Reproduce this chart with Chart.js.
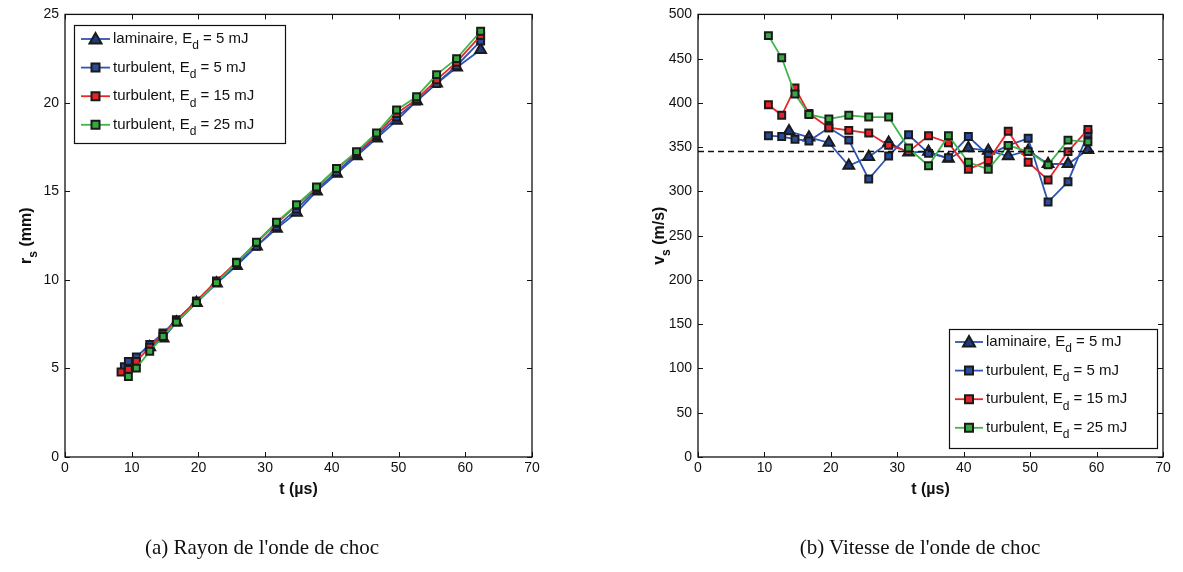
<!DOCTYPE html>
<html><head><meta charset="utf-8">
<script src="https://cdn.jsdelivr.net/npm/chart.js@4/dist/chart.umd.min.js"></script>
<style>
html,body{margin:0;padding:0;background:#fff;}
#wrap{position:relative;width:1183px;height:572px;overflow:hidden;}
canvas{position:absolute;top:0;}
.cap{position:absolute;top:535px;font-family:"Liberation Serif","DejaVu Serif",serif;font-size:21px;color:#111;white-space:nowrap;transform:translateX(-50%);}
</style></head>
<body><div id="wrap">
<canvas id="c1" width="600" height="572" style="left:0"></canvas>
<canvas id="c2" width="583" height="572" style="left:600px"></canvas>
<div class="cap" style="left:262px">(a) Rayon de l'onde de choc</div>
<div class="cap" style="left:920px">(b) Vitesse de l'onde de choc</div>
</div>
<script>
// ---------- DATA ----------
const seriesNames = ["laminaire, E|d| = 5 mJ","turbulent, E|d| = 5 mJ","turbulent, E|d| = 15 mJ","turbulent, E|d| = 25 mJ"];
const xTicks = [0,10,20,30,40,50,60,70];
const rTicks = [0,5,10,15,20,25];
const vTicks = [0,50,100,150,200,250,300,350,400,450,500];

// (a) radius r_s (mm) vs t (us)
const tLam_a  = [12.7,14.7,16.7,19.7,22.7,25.7,28.7,31.7,34.7,37.7,40.7,43.7,46.7,49.7,52.7,55.7,58.7,62.3];
const rLam    = [6.2,6.7,7.6,8.7,9.8,10.8,11.9,12.9,13.8,15.0,16.0,17.0,18.0,19.0,20.1,21.1,22.0,23.0];
const tTurb5_a  = [8.9,9.5,10.7,12.7,14.7,16.7,19.7,22.7,25.7,28.7,31.7,34.7,37.7,40.7,43.7,46.7,49.7,52.7,55.7,58.7,62.3];
const rTurb5    = [5.1,5.4,5.65,6.35,7.0,7.75,8.8,9.9,10.9,11.9,13.0,14.0,15.1,16.1,17.1,18.1,19.2,20.1,21.1,22.1,23.5];
const tTurb15_a = [8.4,9.5,10.7,12.7,14.7,16.7,19.7,22.7,25.7,28.7,31.7,34.7,37.7,40.7,43.7,46.7,49.7,52.7,55.7,58.7,62.3];
const rTurb15   = [4.8,4.95,5.4,6.2,6.95,7.7,8.8,9.95,11.0,12.1,13.2,14.2,15.2,16.3,17.2,18.2,19.4,20.2,21.3,22.3,23.8];
const tTurb25_a = [9.5,10.7,12.7,14.7,16.7,19.7,22.7,25.7,28.7,31.7,34.7,37.7,40.7,43.7,46.7,49.7,52.7,55.7,58.7,62.3];
const rTurb25   = [4.55,5.02,5.97,6.81,7.62,8.72,9.85,10.97,12.13,13.26,14.25,15.25,16.3,17.25,18.3,19.6,20.35,21.6,22.5,24.05];

// (b) velocity v_s (m/s) vs t (us)
const tLam_b  = [13.7,16.7,19.7,22.7,25.7,28.7,31.7,34.7,37.7,40.7,43.7,46.7,49.7,52.7,55.7,58.7];
const vLam    = [368,361,355,329,339,355,344,345,337,349,346,340,346,331,331,347];
const tTurb_b = [10.6,12.6,14.6,16.7,19.7,22.7,25.7,28.7,31.7,34.7,37.7,40.7,43.7,46.7,49.7,52.7,55.7,58.7];
const vTurb5  = [363,362,359,357,372,358,314,340,364,343,338,362,341,352,360,288,311,365];
const vTurb15 = [398,386,417,388,372,369,366,352,345,363,355,325,335,368,333,313,345,370];
const vTurb25 = [476,451,410,387,382,386,384,384,349,329,363,333,325,352,345,330,358,356];
const vRef = 345;   // dashed reference (speed of sound)

// ---------- STYLE ----------
const C_BLUE='#2f55b0', C_BLUEF='#2b4c9a', C_RED='#e8262b', C_REDF='#e52228', C_GREEN='#3fb54a', C_GREENF='#38a845';
const styles = [
  {line:C_BLUE, fill:'#1f3a80', pt:'triangle', r:6.2},
  {line:C_BLUE, fill:C_BLUEF, pt:'rect', r:4.9},
  {line:C_RED, fill:C_REDF, pt:'rect', r:4.9},
  {line:C_GREEN, fill:C_GREENF, pt:'rect', r:4.9}
];
const TICKFONT = {family:"'Liberation Sans Narrow','Liberation Sans',Arial,sans-serif", size:14};

function pts(xs, ys){ return xs.map((x,i)=>({x:x,y:ys[i]})); }
function ds(i, data){
  const s = styles[i];
  return {data:data, showLine:true, borderColor:s.line, borderWidth:1.8,
    pointStyle:s.pt, pointRadius:s.r, pointBackgroundColor:s.fill,
    pointBorderColor:'#1a1a1a', pointBorderWidth:2, order:3-i};
}

function drawSubText(ctx, x, y, parts, big, small, align){
  const [a,b,c] = parts.split('|');
  ctx.font = big; const wa = ctx.measureText(a).width; const wc = ctx.measureText(c).width;
  ctx.font = small; const wb = ctx.measureText(b).width;
  let x0 = align==='center' ? x - (wa+wb+wc)/2 : x;
  ctx.textAlign='left'; ctx.textBaseline='middle';
  ctx.font = big; ctx.fillText(a, x0, y);
  ctx.font = small; ctx.fillText(b, x0+wa, y+7);
  ctx.font = big; ctx.fillText(c, x0+wa+wb, y);
}

function framePlugin(opt){
  return {id:'frame'+opt.id, afterDraw(chart){
    const ctx = chart.ctx, a = chart.chartArea, xs = chart.scales.x, ys = chart.scales.y;
    ctx.save();
    ctx.strokeStyle='#111'; ctx.lineWidth=1.3;
    ctx.strokeRect(a.left, a.top, a.right-a.left, a.bottom-a.top);
    ctx.lineWidth=1;
    const L=5;
    ctx.beginPath();
    xs.ticks.forEach(t=>{ const px=Math.round(xs.getPixelForValue(t.value))+0.5;
      ctx.moveTo(px,a.bottom); ctx.lineTo(px,a.bottom-L); ctx.moveTo(px,a.top); ctx.lineTo(px,a.top+L); });
    ys.ticks.forEach(t=>{ const py=Math.round(ys.getPixelForValue(t.value))+0.5;
      ctx.moveTo(a.left,py); ctx.lineTo(a.left+L,py); ctx.moveTo(a.right,py); ctx.lineTo(a.right-L,py); });
    ctx.stroke();
    ctx.fillStyle='#111';
    ctx.font="bold 16px 'Liberation Sans',Arial,sans-serif";
    ctx.textAlign='center'; ctx.textBaseline='middle';
    ctx.fillText('t (\u00b5s)', (a.left+a.right)/2, opt.xTitleY);
    ctx.save();
    ctx.translate(opt.yTitleX, (a.top+a.bottom)/2); ctx.rotate(-Math.PI/2);
    drawSubText(ctx, 0, 0, opt.yTitle, "bold 16px 'Liberation Sans',Arial,sans-serif", "bold 12px 'Liberation Sans',Arial,sans-serif", 'center');
    ctx.restore();
    const lg = opt.legend;
    ctx.fillStyle='#fff'; ctx.fillRect(lg.x, lg.y, lg.w, lg.h);
    ctx.strokeStyle='#111'; ctx.lineWidth=1.2; ctx.strokeRect(lg.x+0.5, lg.y+0.5, lg.w, lg.h);
    seriesNames.forEach((nm,i)=>{
      const yy = lg.y + lg.row0 + i*lg.dy, s = styles[i];
      ctx.strokeStyle=s.line; ctx.lineWidth=1.8;
      ctx.beginPath(); ctx.moveTo(lg.x+lg.l0, yy); ctx.lineTo(lg.x+lg.l1, yy); ctx.stroke();
      const mx = lg.x+(lg.l0+lg.l1)/2;
      ctx.fillStyle=s.fill; ctx.strokeStyle='#1a1a1a'; ctx.lineWidth=2;
      ctx.beginPath();
      if(s.pt==='triangle'){ ctx.moveTo(mx, yy-6); ctx.lineTo(mx+6, yy+4.5); ctx.lineTo(mx-6, yy+4.5); ctx.closePath(); }
      else { ctx.rect(mx-4, yy-4, 8, 8); }
      ctx.fill(); ctx.stroke();
      ctx.fillStyle='#111';
      drawSubText(ctx, lg.x+lg.tx, yy, nm, "15px 'Liberation Sans',Arial,sans-serif", "12px 'Liberation Sans',Arial,sans-serif", 'left');
    });
    ctx.restore();
  }};
}

function makeChart(id, datasets, yMax, yTicksArr, yW, padR, opt){
  return new Chart(document.getElementById(id), {
    type:'scatter',
    data:{datasets:datasets},
    options:{
      responsive:false, animation:false, events:[],
      layout:{padding:{left:0, top:12, right:padR, bottom:85}},
      plugins:{legend:{display:false}, tooltip:{enabled:false}},
      scales:{
        x:{type:'linear', min:0, max:70, afterBuildTicks:s=>{s.ticks=xTicks.map(v=>({value:v}));},
           grid:{display:false, drawTicks:false}, border:{display:false},
           ticks:{color:'#111', font:TICKFONT, padding:3, maxRotation:0},
           afterFit:s=>{s.height=30;}},
        y:{type:'linear', min:0, max:yMax, afterBuildTicks:s=>{s.ticks=yTicksArr.map(v=>({value:v}));},
           grid:{display:false, drawTicks:false}, border:{display:false},
           ticks:{color:'#111', font:TICKFONT, padding:6},
           afterFit:s=>{s.width=yW;}}
      }
    },
    plugins:[framePlugin(opt)]
  });
}

const dsA = [ds(0,pts(tLam_a,rLam)), ds(1,pts(tTurb5_a,rTurb5)), ds(2,pts(tTurb15_a,rTurb15)), ds(3,pts(tTurb25_a,rTurb25))];
makeChart('c1', dsA, 25, rTicks, 65, 68,
  {id:1, xTitleY:490, yTitleX:27, yTitle:'r|s| (mm)',
   legend:{x:74, y:25, w:211, h:118, row0:14, dy:28.6, l0:7, l1:36, tx:39}});

const dsB = [ds(0,pts(tLam_b,vLam)), ds(1,pts(tTurb_b,vTurb5)), ds(2,pts(tTurb_b,vTurb15)), ds(3,pts(tTurb_b,vTurb25)),
  {data:[{x:0,y:vRef},{x:70,y:vRef}], showLine:true, borderColor:'#111', borderWidth:1.5, borderDash:[6,4], pointRadius:0, order:-1}];
makeChart('c2', dsB, 500, vTicks, 98, 20,
  {id:2, xTitleY:490, yTitleX:60, yTitle:'v|s| (m/s)',
   legend:{x:349, y:329, w:208, h:119, row0:13, dy:28.6, l0:6, l1:34, tx:37}});
</script>
</body></html>
